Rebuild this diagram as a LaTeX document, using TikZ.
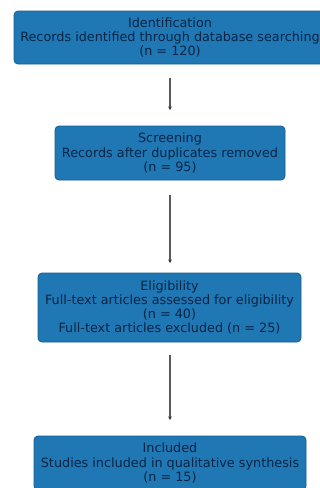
\documentclass[tikz,border=0pt]{standalone}
\usepackage{fontspec}
\setmainfont{DejaVu Sans}
\usetikzlibrary{arrows.meta}
\definecolor{boxfill}{HTML}{1F77B4}
\definecolor{boxline}{HTML}{185F90}
\definecolor{boxtext}{HTML}{0B2545}
\begin{document}
\begin{tikzpicture}[x=1pt,y=-1pt,
  stagebox/.style={draw=boxline, line width=0.8pt, fill=boxfill, rounded corners=4pt,
    text=boxtext, align=center, font=\fontsize{12.8}{14.3}\selectfont, inner sep=0pt},
  flow/.style={draw=gray!70!black, line width=1.2pt, -{Stealth[length=3.5pt,width=3.5pt,black!80]}}]
\useasboundingbox[fill=white] (0,0) rectangle (320,488);
\node[stagebox, minimum width=312pt, minimum height=53pt] (id) at (170,37.5)
  {Identification\\Records identified through database searching\\(n = 120)};
\node[stagebox, minimum width=230pt, minimum height=54pt] (sc) at (170,153)
  {Screening\\Records after duplicates removed\\(n = 95)};
\node[stagebox, minimum width=263pt, minimum height=69pt] (el) at (169.5,307.5)
  {Eligibility\\Full-text articles assessed for eligibility\\(n = 40)\\Full-text articles excluded (n = 25)};
\node[stagebox, minimum width=272pt, minimum height=54pt] (inc) at (170,463)
  {Included\\Studies included in qualitative synthesis\\(n = 15)};
\coordinate (a1s) at (170,78); \coordinate (a1e) at (170,110);
\coordinate (a2s) at (170,195); \coordinate (a2e) at (170,263);
\coordinate (a3s) at (170,355); \coordinate (a3e) at (170,420);
\draw[flow] (a1s) -- (a1e);
\draw[flow] (a2s) -- (a2e);
\draw[flow] (a3s) -- (a3e);
\end{tikzpicture}
\end{document}
